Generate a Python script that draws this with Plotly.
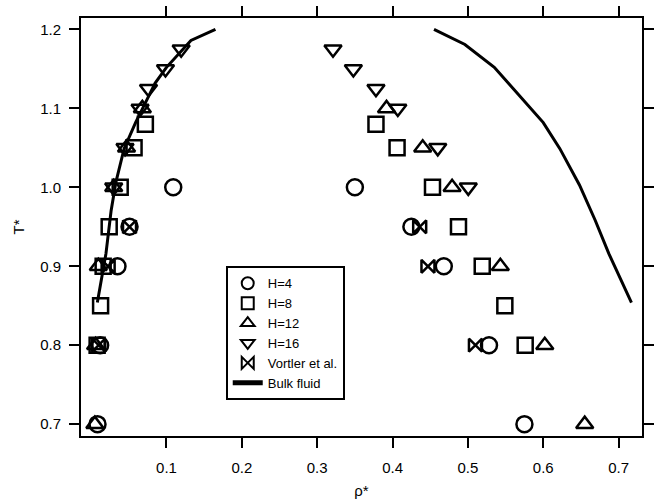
import plotly.graph_objects as go

# ---- data ----
h4_rho = [0.109, 0.350, 0.051, 0.425, 0.035, 0.468, 0.012, 0.528, 0.0085, 0.575]
h4_T = [1.00, 1.00, 0.95, 0.95, 0.90, 0.90, 0.80, 0.80, 0.70, 0.70]

h8_rho = [0.0126, 0.024, 0.0386, 0.057, 0.072, 0.016, 0.008,
          0.378, 0.406, 0.453, 0.4875, 0.519, 0.549, 0.576]
h8_T = [0.85, 0.95, 1.00, 1.05, 1.08, 0.90, 0.80,
        1.08, 1.05, 1.00, 0.95, 0.90, 0.85, 0.80]

h12_rho = [0.068, 0.047, 0.030, 0.0096, 0.006, 0.005,
           0.392, 0.440, 0.479, 0.543, 0.602, 0.655]
h12_T = [1.10, 1.05, 1.00, 0.90, 0.80, 0.70,
         1.10, 1.05, 1.00, 0.90, 0.80, 0.70]

h16_rho = [0.1195, 0.0987, 0.0762, 0.065, 0.045, 0.030,
           0.321, 0.348, 0.378, 0.407, 0.460, 0.5005]
h16_T = [1.175, 1.15, 1.125, 1.10, 1.05, 1.00,
         1.175, 1.15, 1.125, 1.10, 1.05, 1.00]

vort_rho = [0.051, 0.0226, 0.010, 0.436, 0.447, 0.510]
vort_T = [0.95, 0.90, 0.80, 0.95, 0.90, 0.80]

bulk_rho = [0.0083, 0.0197, 0.0265, 0.033, 0.0438, 0.059, 0.072, 0.085, 0.100,
            0.1195, 0.1325, 0.165, None,
            0.455, 0.496, 0.535, 0.570, 0.600, 0.622, 0.648, 0.669, 0.687, 0.717]
bulk_T = [0.854, 0.916, 0.970, 1.007, 1.049, 1.082, 1.107, 1.132, 1.152,
          1.173, 1.186, 1.200, None,
          1.200, 1.181, 1.152, 1.115, 1.082, 1.049, 1.003, 0.958, 0.916, 0.854]

x_ticks = [0.1, 0.2, 0.3, 0.4, 0.5, 0.6, 0.7]
x_ticktext = ["0.1", "0.2", "0.3", "0.4", "0.5", "0.6", "0.7"]
y_ticks = [0.7, 0.8, 0.9, 1.0, 1.1, 1.2]
y_ticktext = ["0.7", "0.8", "0.9", "1.0", "1.1", "1.2"]

FONT = "Liberation Sans, Arial, sans-serif"
mline = dict(color="black", width=2.5)

fig = go.Figure()
fig.add_trace(go.Scatter(x=h4_rho, y=h4_T, mode="markers", name="H=4",
                         marker=dict(symbol="circle-open", size=16, color="black", line=mline)))
fig.add_trace(go.Scatter(x=h8_rho, y=h8_T, mode="markers", name="H=8",
                         marker=dict(symbol="square-open", size=15, color="black", line=mline)))
fig.add_trace(go.Scatter(x=h12_rho, y=h12_T, mode="markers", name="H=12",
                         marker=dict(symbol="triangle-up-open", size=15, color="black", line=mline)))
fig.add_trace(go.Scatter(x=h16_rho, y=h16_T, mode="markers", name="H=16",
                         marker=dict(symbol="triangle-down-open", size=15, color="black", line=mline)))
fig.add_trace(go.Scatter(x=vort_rho, y=vort_T, mode="markers", name="Vortler et al.",
                         marker=dict(symbol="bowtie-open", size=13, color="black", line=mline)))
fig.add_trace(go.Scatter(x=bulk_rho, y=bulk_T, mode="lines", name="Bulk fluid",
                         line=dict(color="black", width=3), connectgaps=False))

axis_common = dict(showline=True, linecolor="black", linewidth=2, mirror="ticks",
                   ticks="outside", ticklen=10, tickwidth=2, tickcolor="black",
                   showgrid=False, zeroline=False,
                   tickfont=dict(family=FONT, size=15, color="black"))

fig.update_xaxes(range=[-0.0134, 0.731], tickmode="array", tickvals=x_ticks,
                 ticktext=x_ticktext, ticklabelstandoff=7,
                 title=dict(text="ρ*", font=dict(family=FONT, size=15, color="black"), standoff=10),
                 **axis_common)
fig.update_yaxes(range=[0.685, 1.2145], tickmode="array", tickvals=y_ticks,
                 ticktext=y_ticktext, ticklabelstandoff=5,
                 title=dict(text="T*", font=dict(family=FONT, size=15, color="black"), standoff=12),
                 **axis_common)

fig.update_layout(
    width=660, height=504,
    margin=dict(l=81, r=6, t=10, b=68),
    paper_bgcolor="white", plot_bgcolor="white",
    font=dict(family=FONT, size=13, color="black"),
    showlegend=True,
    legend=dict(x=0.258, y=0.406, xanchor="left", yanchor="top",
                bordercolor="black", borderwidth=2, bgcolor="white",
                font=dict(family=FONT, size=13, color="black"),
                tracegroupgap=0, itemsizing="constant"),
)

fig.write_html("out.html")
